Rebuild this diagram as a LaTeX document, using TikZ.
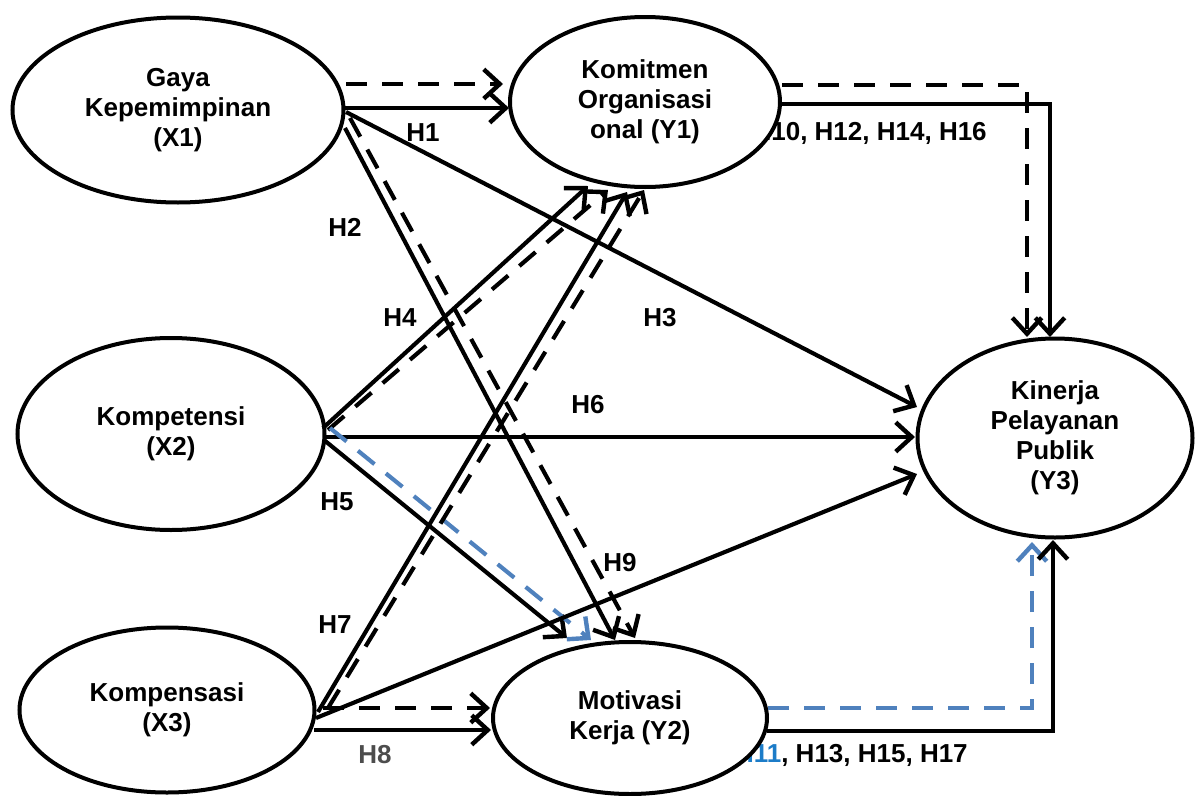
\documentclass[tikz,border=0pt]{standalone}
\usepackage{fontspec}
\setmainfont{Liberation Sans}
\usetikzlibrary{shapes.geometric,arrows.meta,calc}
\definecolor{pathblue}{HTML}{4F81BD}
\definecolor{labelblue}{HTML}{1C7CC8}
\definecolor{labelgray}{HTML}{4D4D4D}
\begin{document}
\begin{tikzpicture}[x=0.75pt,y=-0.75pt,
  font=\bfseries\fontsize{19.5}{22.5}\selectfont,
  latent/.style={ellipse,draw,line width=3pt,fill=white,align=center,inner sep=0pt},
  conn/.style={line width=3.1pt,-{Straight Barb[length=12pt,width=22pt,line width=3.3pt]}},
  dashconn/.style={conn,dash pattern=on 16pt off 11pt},
  blueconn/.style={dashconn,draw=pathblue},
  hyp/.style={inner sep=0pt}]
\useasboundingbox (0,0) rectangle (1200,796);

% path labels partly covered by the ellipses
\node[hyp,anchor=east] (lab1) at (987,133) {H10, H12, H14, H16};
\node[hyp,anchor=east] (lab2) at (968,755) {\textcolor{labelblue}{H11}, H13, H15, H17};

% latent variables
\node[latent,minimum width={331*0.75pt},minimum height={185*0.75pt}] (X1) at (178,110) {Gaya\\Kepemimpinan\\(X1)};
\node[latent,minimum width={270*0.75pt},minimum height={170*0.75pt}] (Y1) at (645,102) {Komitmen\\Organisasi\\onal (Y1)};
\node[latent,minimum width={307*0.75pt},minimum height={192*0.75pt}] (X2) at (171,434) {Kompetensi\\(X2)};
\node[latent,minimum width={295*0.75pt},minimum height={165*0.75pt}] (X3) at (167,710) {Kompensasi\\(X3)};
\node[latent,minimum width={274*0.75pt},minimum height={152*0.75pt}] (Y2) at (630,718) {Motivasi\\Kerja (Y2)};
\node[latent,minimum width={275*0.75pt},minimum height={199*0.75pt}] (Y3) at (1055,438) {Kinerja\\Pelayanan\\Publik\\(Y3)};

% from X1
\draw[dashconn] ($(X1)+(168,-26)$) -- ($(Y1)+(-142,-18)$);
\draw[conn] ($(X1)+(167,-2)$) -- ($(Y1)+(-136,6)$);
\draw[conn] ($(X1)+(168,2)$) -- ($(Y3)+(-138,-31)$);
\draw[conn] ($(X1)+(167,18)$) -- ($(Y2)+(-15,-78)$);
\draw[dashconn] ($(X1)+(172,8)$) -- ($(Y2)+(5,-80)$);

% from X2
\draw[conn] ($(X2)+(152,-6)$) -- ($(Y1)+(-57,84)$);
\draw[dashconn] ($(X2)+(157,-4)$) -- ($(Y1)+(-37,88)$);
\draw[conn] ($(X2)+(153,3)$) -- ($(Y3)+(-140,-1)$);
\draw[conn] ($(X2)+(153,6)$) -- ($(Y2)+(-63,-80)$);
\draw[blueconn] ($(X2)+(159,-6)$) -- ($(Y2)+(-39,-78)$);

% from X3
\draw[conn] ($(X3)+(151,2)$) -- ($(Y1)+(-18,90)$);
\draw[dashconn] ($(X3)+(161,-2)$) -- ($(Y1)+(-1,88)$);
\draw[conn] ($(X3)+(149,8)$) -- ($(Y3)+(-138,36)$);
\draw[dashconn] ($(X3)+(156,-2)$) -- ($(Y2)+(-140,-10)$);
\draw[conn] ($(X3)+(147,20)$) -- ($(Y2)+(-139,12)$);

% mediators to Y3
\draw[dashconn] ($(Y1)+(137,-17)$) -| ($(Y3)+(-28,-101)$);
\draw[conn] ($(Y1)+(135,2)$) -| ($(Y3)+(-5,-101)$);
\draw[blueconn] ($(Y2)+(138,-10)$) -| ($(Y3)+(-23,104)$);
\draw[conn] ($(Y2)+(137,13)$) -| ($(Y3)+(-2,102)$);

% hypothesis labels
\node[hyp] (h1) at (423,133) {H1};
\node[hyp] (h2) at (345,227) {H2};
\node[hyp] (h3) at (660,318) {H3};
\node[hyp] (h4) at (400,318) {H4};
\node[hyp] (h5) at (337,502) {H5};
\node[hyp] (h6) at (588,405) {H6};
\node[hyp] (h7) at (335,625) {H7};
\node[hyp,text=labelgray] (h8) at (375,755) {H8};
\node[hyp] (h9) at (620,563) {H9};
\end{tikzpicture}
\end{document}
